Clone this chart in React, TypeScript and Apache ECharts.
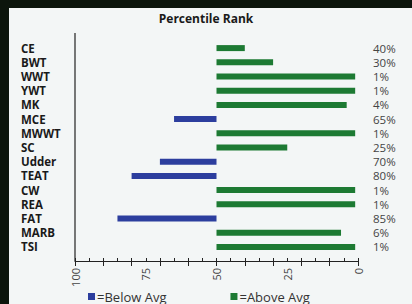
import React, { useEffect, useRef } from "react";
import * as echarts from "echarts";

const categories = ["CE", "BWT", "WWT", "YWT", "MK", "MCE", "MWWT", "SC", "Udder", "TEAT", "CW", "REA", "FAT", "MARB", "TSI"];
const ranks = [40, 30, 1, 1, 4, 65, 1, 25, 70, 80, 1, 1, 85, 6, 1];
const avg = 50;
const axisLabels = [0, 25, 50, 75, 100];
const legendNames = ["=Below Avg", "=Above Avg"];

const FONT = "'Open Sans', 'Noto Sans', sans-serif";

export default function App() {
  const ref = useRef<HTMLDivElement>(null);
  useEffect(() => {
    if (!ref.current) return;
    const chart = echarts.init(ref.current, undefined, { renderer: "svg" });
    const base = ranks.map((v) => Math.min(v, avg));
    const above = ranks.map((v) => (v < avg ? avg - v : 0));
    const below = ranks.map((v) => (v > avg ? v - avg : 0));
    chart.setOption({
      animation: false,
      backgroundColor: "#f3f6f6",
      textStyle: { fontFamily: FONT },
      title: {
        text: "Percentile Rank",
        left: 197,
        textAlign: "center",
        top: 4,
        padding: 0,
        textStyle: { fontSize: 12, fontWeight: "bold", color: "#1a1a1a", fontFamily: FONT },
      },
      legend: {
        data: legendNames,
        left: 79,
        top: 282,
        padding: 0,
        itemWidth: 7,
        itemHeight: 7,
        itemGap: 64,
        icon: "rect",
        itemStyle: { borderWidth: 0 },
        textStyle: { fontSize: 13, color: "#333", padding: [0, 0, 0, -3], fontFamily: FONT },
      },
      grid: { left: 66, right: 54, top: 33, bottom: 50, containLabel: false },
      xAxis: [
        {
          type: "value",
          min: 0,
          max: 100,
          interval: 5,
          inverse: true,
          offset: 7,
          splitLine: { show: false },
          axisLine: { show: true, lineStyle: { color: "#222", width: 1.2 } },
          axisTick: { show: true, inside: true, length: 3, lineStyle: { color: "#222" } },
          axisLabel: {
            rotate: 90,
            fontSize: 11,
            color: "#444",
            margin: 7,
            showMinLabel: true,
            showMaxLabel: true,
            formatter: (v: number) => (axisLabels.includes(v) ? String(v) : ""),
          },
        },
        {
          type: "value",
          min: 0,
          max: 100,
          interval: 10,
          inverse: true,
          position: "bottom",
          offset: 7,
          splitLine: { show: false },
          axisLine: { show: false },
          axisTick: { show: true, length: 5, lineStyle: { color: "#222" } },
          axisLabel: { show: false },
        },
      ],
      yAxis: [
        {
          type: "category",
          data: categories,
          inverse: true,
          axisLine: { show: false },
          axisTick: { show: false },
          axisLabel: {
            interval: 0,
            align: "left",
            margin: 54,
            fontSize: 11.5,
            lineHeight: 12,
            fontWeight: "bold",
            color: "#1a1a1a",
            fontFamily: FONT,
          },
        },
        {
          type: "category",
          data: categories,
          inverse: true,
          position: "right",
          axisLine: { show: false },
          axisTick: { show: false },
          axisLabel: {
            interval: 0,
            margin: 15,
            fontSize: 11.5,
            lineHeight: 12,
            color: "#444",
            fontFamily: FONT,
            formatter: (_: string, i: number) => ranks[i] + "%",
          },
        },
      ],
      graphic: [
        {
          type: "line",
          shape: { x1: 66, y1: 25, x2: 66, y2: 253 },
          style: { stroke: "#222", lineWidth: 1.2 },
        },
      ],
      series: [
        {
          name: "base",
          type: "bar",
          stack: "r",
          barWidth: 6,
          data: base,
          itemStyle: { color: "transparent" },
          silent: true,
        },
        {
          name: legendNames[1],
          type: "bar",
          stack: "r",
          barWidth: 6,
          data: above,
          itemStyle: { color: "#1d7a33" },
        },
        {
          name: legendNames[0],
          type: "bar",
          stack: "r",
          barWidth: 6,
          data: below,
          itemStyle: { color: "#2c3e9e" },
        },
      ],
    });
    return () => chart.dispose();
  }, []);
  return (
    <div style={{ position: "fixed", left: 0, top: 0, width: 412, height: 304, background: "#0c150c" }}>
      <div ref={ref} style={{ position: "absolute", left: 9, top: 8, width: 403, height: 296 }} />
    </div>
  );
}
